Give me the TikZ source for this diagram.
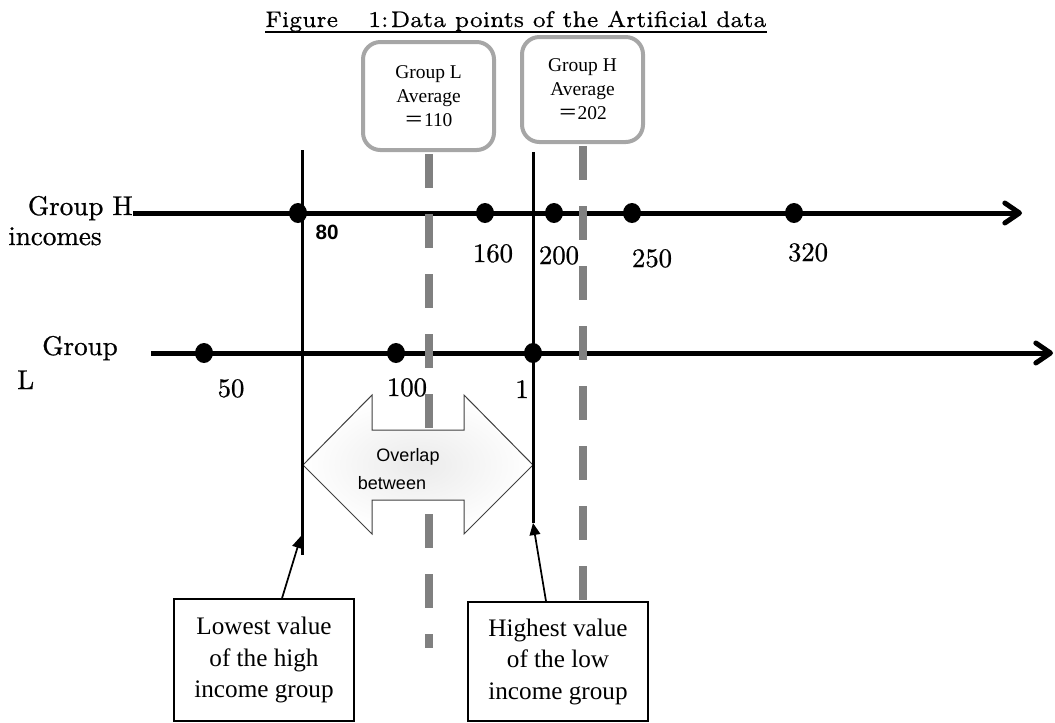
\documentclass[tikz,border=0pt]{standalone}
\usepackage{fontspec}
\usetikzlibrary{arrows.meta,shapes.geometric}
\newfontfamily\cent{lmroman7-regular.otf}[FakeBold=0.5]
\newfontfamily\lmten{lmroman10-regular.otf}[FakeBold=0.8]
\newfontfamily\timesf{Liberation Serif}
\newfontfamily\arialf{Liberation Sans}
\newfontfamily\cjkf{Noto Sans CJK JP}
\definecolor{avgedge}{HTML}{A6A6A6}
\definecolor{avgdash}{HTML}{808080}
\definecolor{arrowedge}{HTML}{404040}

\begin{document}
\begin{tikzpicture}[x=0.75pt,y=-0.75pt,
  axis/.style={line width=3.75pt, -{Straight Barb[length=11pt,width=15pt,round]}},
  bound/.style={line width=2.25pt},
  avgbox/.style={draw=avgedge, line width=3pt, rounded corners=13pt, fill=white,
    align=center, inner sep=0pt, font=\timesf\fontsize{14.6}{18}\selectfont},
  avgline/.style={draw=avgdash, line width=6pt, dash pattern=on 25.5pt off 19.5pt},
  dot/.style={ellipse, fill=black, inner sep=0pt, minimum width=13.5pt, minimum height=15pt},
  lab/.style={font=\lmten\fontsize{20.3}{24}\selectfont, inner sep=0pt},
  num/.style={font=\lmten\fontsize{20}{24}\selectfont, inner sep=0pt, anchor=base},
  note/.style={draw, line width=1.1pt, fill=white, align=center, inner sep=0pt,
    font=\timesf\fontsize{18.9}{23.6}\selectfont, minimum width=135pt},
  pointer/.style={line width=1.3pt, -{Triangle[length=9pt,width=8pt]}},
  overlaptext/.style={font=\arialf\fontsize{13.5}{16}\selectfont, inner sep=0pt},
  titletext/.style={anchor=base west, inner sep=0pt, font=\cent\fontsize{17}{21}\selectfont},
]
\useasboundingbox (0,0) rectangle (1055,722);

% title
\node[titletext] (figword) at (265,27) {Figure};
\node[titletext] (figcap) at (368,27) {1:\hspace{0.1em}Data points of the Artificial data};
\draw[line width=1.2pt] ([yshift=-3.75pt]figword.base west) -- ([yshift=-3.75pt]figcap.base east);

% axes
\coordinate (hstart) at (133,213);
\coordinate (hend) at (1022,213);
\coordinate (lstart) at (151,353);
\coordinate (lend) at (1053,353);
\draw[axis] (hstart) -- (hend);
\draw[axis] (lstart) -- (lend);

% group averages
\node[avgbox, minimum width=98.25pt, minimum height=81pt] (avgL) at (428.5,96)
  {Group L\\Average\\{\cjkf ＝}110};
\node[avgbox, minimum width=90.75pt, minimum height=78.75pt] (avgH) at (582.5,89.5)
  {Group H\\Average\\{\cjkf ＝}202};
\draw[avgline] ([yshift=-1.5pt]avgL.south) -- ++(0,494);
\draw[avgline] ([yshift=-1.5pt]avgH.south) -- ++(0,456);

% overlap arrow
\shadedraw[inner color=black!8, outer color=white, draw=arrowedge, line width=0.75pt]
  (303,465) -- (372,395) -- (372,430) -- (464,430) -- (464,395) -- (533,465)
  -- (464,534) -- (464,500) -- (372,500) -- (372,534) -- cycle;
\node[overlaptext] (ovl1) at (408,457) {Overlap};
\node[overlaptext] (ovl2) at (392,483) {between};

% boundaries of the overlap
\coordinate (v1top) at (302,150);
\coordinate (v1bot) at (302,555);
\coordinate (v1tip) at (301,536);
\coordinate (v2top) at (533,152);
\coordinate (v2bot) at (533,523);
\draw[bound] (v1top) -- (v1bot);
\draw[bound] (v2top) -- (v2bot);

% data points
\node[dot] (h80) at (298,213) {};
\node[dot] (h160) at (485,213) {};
\node[dot] (h200) at (554,213) {};
\node[dot] (h250) at (632,213) {};
\node[dot] (h320) at (794,213) {};
\node[dot] (l50) at (204,353) {};
\node[dot] (l100) at (396,353) {};
\node[dot] (l1) at (533,353) {};

% value labels
\node[inner sep=0pt, anchor=base, font=\arialf\bfseries\fontsize{15.5}{18}\selectfont] (t80) at (327,239) {80};
\node[num] (t160) at (493,262) {160};
\node[num] (t200) at (559,264) {200};
\node[num] (t250) at (652,267) {250};
\node[num] (t320) at (808,261) {320};
\node[num] (t50) at (231,397) {50};
\node[num] (t100) at (407,396) {100};
\node[num] (t1) at (522,398) {1};

% axis names
\node[lab, anchor=base east] (nGH) at (133,215) {Group H};
\node[lab, anchor=base west] (nInc) at (8,245) {incomes};
\node[lab, anchor=base west] (nGL) at (42,355) {Group};
\node[lab, anchor=base west] (nL) at (17,389) {L};

% explanatory boxes
\node[note, minimum height=91.5pt] (lowbox) at (264,660)
  {Lowest value\\of the high\\income group};
\node[note, minimum height=89.25pt] (highbox) at (558,661.5)
  {Highest value\\of the low\\income group};
\draw[pointer] ([xshift=13.5pt]lowbox.north) -- (v1tip);
\draw[pointer] ([xshift=-9pt]highbox.north) -- (v2bot);
\end{tikzpicture}
\end{document}
